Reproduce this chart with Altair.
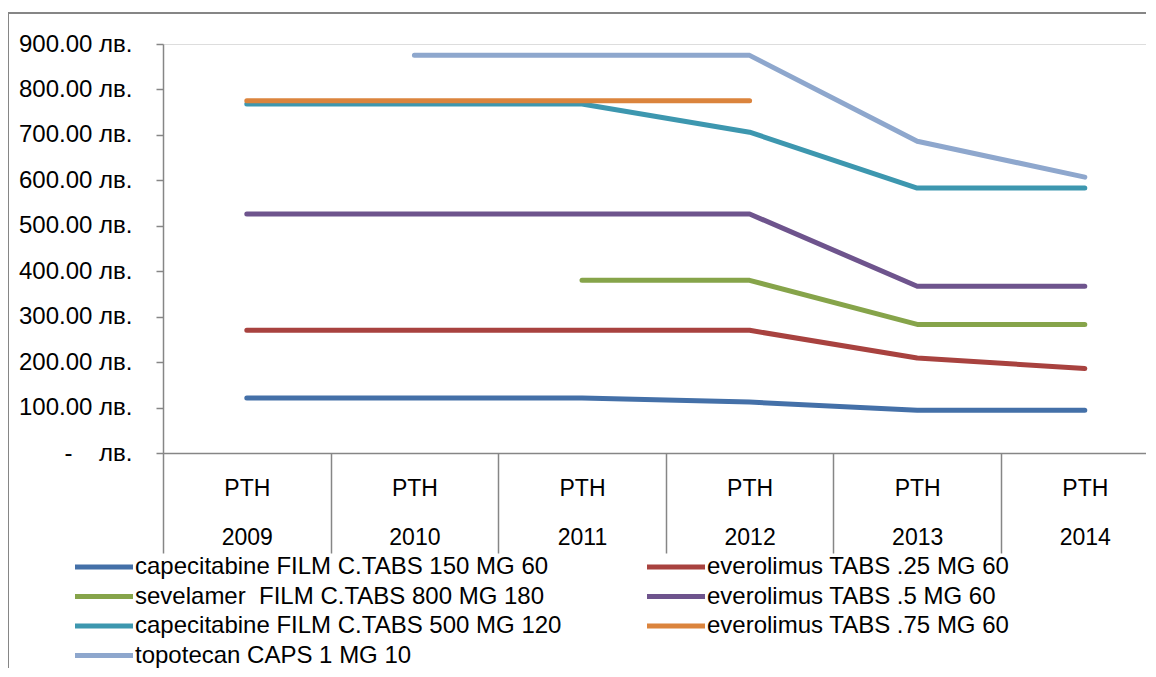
import altair as alt
import pandas as pd

years = [2009, 2010, 2011, 2012, 2013, 2014]
series = [
    "capecitabine FILM C.TABS 150 MG 60",
    "everolimus TABS .25 MG 60",
    "sevelamer  FILM C.TABS 800 MG 180",
    "everolimus TABS .5 MG 60",
    "capecitabine FILM C.TABS 500 MG 120",
    "everolimus TABS .75 MG 60",
    "topotecan CAPS 1 MG 10",
]
cap150 = [121, 121, 121, 112, 94, 94]
ev25 = [270, 270, 270, 270, 209, 186]
sev800 = [None, None, 380, 380, 283, 283]
ev5 = [526, 526, 526, 526, 367, 367]
cap500 = [768, 768, 768, 706, 583, 583]
ev75 = [775, 775, 775, 775, None, None]
topo = [None, 875, 875, 875, 686, 607]
colors = ["#4470A8", "#A8423F", "#86A44A", "#6E548D", "#3D97AF", "#DB843D", "#8EA7CD"]
y_ticks = [0, 100, 200, 300, 400, 500, 600, 700, 800, 900]

rows = []
for name, vals in zip(series, [cap150, ev25, sev800, ev5, cap500, ev75, topo]):
    for yr, v in zip(years, vals):
        if v is not None:
            rows.append({"series": name, "year": yr, "value": v})
df = pd.DataFrame(rows)

W = 983
H = 409
PAD = {"left": 155, "top": 36, "right": 0, "bottom": 215}
band = 167.6
x_scale = alt.Scale(domain=[years[0] - 0.5, years[0] - 0.5 + W / band], nice=False, zero=False)
y_scale = alt.Scale(domain=[0, 900], nice=False)
grey = "#868686"
FONT = "Liberation Sans"

lines = alt.Chart(df).mark_line(strokeWidth=5, strokeCap="round", strokeJoin="round").encode(
    x=alt.X("year:Q", scale=x_scale, axis=alt.Axis(
        values=years, ticks=False, grid=False, title=None, orient="bottom",
        labelExpr="['PTH', '' + datum.value]", labelLineHeight=49,
        labelBaseline="top", labelPadding=24, labelFontSize=23, labelFont=FONT,
        labelColor="black", domainColor=grey, domainWidth=1.5, labelFlush=False)),
    y=alt.Y("value:Q", scale=y_scale, axis=alt.Axis(
        values=y_ticks, grid=False, title=None, tickSize=7, tickColor=grey, domainColor=grey,
        domainWidth=1.5, tickWidth=1.5,
        labelExpr="datum.value == 0 ? '-\u00a0\u00a0\u00a0\u00a0лв.' : format(datum.value, '.2f') + ' лв.'",
        labelPadding=24, labelFontSize=24, labelFont=FONT, labelColor="black")),
    color=alt.Color("series:N", scale=alt.Scale(domain=series, range=colors), legend=alt.Legend(
        orient="none", legendX=-76, legendY=506, columns=2, direction="horizontal", title=None,
        symbolType="M-2,0L2,0", symbolStrokeWidth=5, symbolSize=841, labelFontSize=24,
        labelExpr="replace(datum.label, '  ', ' \u00a0')",
        labelFont=FONT, labelColor="black", labelLimit=0, labelOffset=14, columnPadding=75,
        rowPadding=0.5, padding=0)),
)

ticks = alt.Chart(df).mark_point(opacity=0).encode(
    x=alt.X("year:Q", scale=x_scale, axis=alt.Axis(
        values=[y - 0.5 for y in years], labels=False, domain=False, grid=False, title=None,
        tickSize=100, tickColor=grey, tickWidth=1.5, orient="bottom")),
)

frame_data = pd.DataFrame({"a": [0]})
frame_left = alt.Chart(frame_data).mark_rule(color=grey, strokeWidth=2).encode(
    x=alt.value(-155), y=alt.value(-31), y2=alt.value(H + PAD["bottom"]))
frame_top = alt.Chart(frame_data).mark_rule(color=grey, strokeWidth=2).encode(
    x=alt.value(-155), x2=alt.value(W + PAD["right"]), y=alt.value(-31))

chart = alt.layer(frame_left, frame_top, lines, ticks).resolve_axis(x="independent").properties(
    width=W, height=H,
    autosize=alt.AutoSizeParams(type="none"),
    padding=PAD,
).configure_view(stroke=None).configure(font=FONT, background="white")

chart.save("out.html", embed_options={"renderer": "svg", "actions": False})
